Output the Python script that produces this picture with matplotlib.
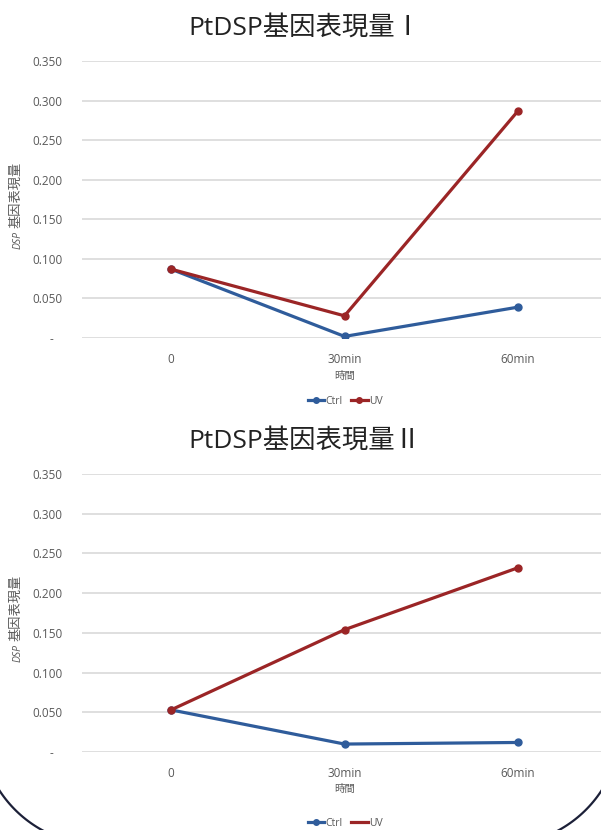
import numpy as np
import matplotlib.pyplot as plt
from matplotlib.lines import Line2D

plt.rcParams['font.family'] = ['Open Sans', 'Noto Sans CJK TC', 'DejaVu Sans']

# expression data, read per time point
times = ['0', '30min', '60min']
ctrl_1 = [0.087, 0.002, 0.039]
uv_1 = [0.087, 0.028, 0.287]
ctrl_2 = [0.053, 0.010, 0.012]
uv_2 = [0.053, 0.154, 0.232]

titles = ['PtDSP基因表現量Ⅰ', 'PtDSP基因表現量Ⅱ']
yticks = [0.0, 0.05, 0.10, 0.15, 0.20, 0.25, 0.30, 0.35]

BLUE = '#2f5c9b'
RED = '#9b2526'
GRID = '#d9d9d9'
TXT = '#595959'

W, H = 601, 830
fig = plt.figure(figsize=(W / 100, H / 100), dpi=100)
fig.patch.set_facecolor('white')


def fx(px):
    return px / W


def fy(py):
    return 1 - py / H


def draw_panel(top, bottom, ctrl, uv, title, title_y, xlab_y, leg_y, uv_leg_marker):
    ax = fig.add_axes([fx(82), fy(bottom), fx(W - 82), (bottom - top) / H])
    x = range(len(times))
    ax.plot(x, ctrl, color=BLUE, lw=2.3, marker='o', ms=5, zorder=3)
    ax.plot(x, uv, color=RED, lw=2.3, marker='o', ms=5, zorder=4)

    ax.set_xlim(-0.513, 2.478)
    ax.set_ylim(0, 0.35)
    ax.set_yticks(yticks)
    ax.set_yticklabels(['-   ' if v == 0 else f'{v:.3f}' for v in yticks],
                       fontsize=8.5, color=TXT)
    ax.set_xticks(list(x))
    ax.set_xticklabels(times, fontsize=8.5, color=TXT)
    ax.tick_params(axis='both', length=0)
    ax.tick_params(axis='y', pad=14)
    ax.tick_params(axis='x', pad=11)
    ax.grid(axis='y', color=GRID, lw=1.2)
    ax.set_axisbelow(True)
    for s in ax.spines.values():
        s.set_visible(False)

    # y label: italic gene name, then the CJK part stacked above it
    mid = (top + bottom) / 2
    fig.text(fx(18.5), fy(mid + 40), 'DSP', fontsize=7.5, style='italic', rotation=90,
             ha='center', va='center', color=TXT)
    fig.text(fx(16), fy(mid - 5), '基因表現量', fontsize=9.5, rotation=90,
             ha='center', va='center', color=TXT)

    fig.text(fx(305), fy(title_y), title, fontsize=19, ha='center', va='center',
             color='#222222')
    fig.text(fx(345), fy(xlab_y), '時間', fontsize=7.5, ha='center', va='center',
             color=TXT)

    handles = [
        Line2D([], [], color=BLUE, lw=2.3, marker='o', ms=4),
        Line2D([], [], color=RED, lw=2.3, marker='o' if uv_leg_marker else None, ms=4),
    ]
    ax.legend(handles, ['Ctrl', 'UV'], loc='center', ncol=2, frameon=False,
              bbox_to_anchor=(fx(345), fy(leg_y)), bbox_transform=fig.transFigure,
              fontsize=7.5, handlelength=1.6, handletextpad=0.1, columnspacing=0.8,
              labelcolor=TXT)
    return ax


draw_panel(61, 338, ctrl_1, uv_1, titles[0], 28, 376, 401, True)
draw_panel(474, 752, ctrl_2, uv_2, titles[1], 441, 789, 823, False)

# lower rounded corners of the sheet frame
bg = fig.add_axes([0, 0, 1, 1], zorder=10)
bg.set_xlim(0, W)
bg.set_ylim(H, 0)
bg.axis('off')
bg.patch.set_alpha(0)
R = 120
t = np.linspace(np.pi / 2, np.pi, 60)
bg.plot(100 + R * np.cos(t), 725 + R * np.sin(t), color='#1c2038', lw=1.6)
t = np.linspace(0, np.pi / 2, 60)
bg.plot(501 + R * np.cos(t), 725 + R * np.sin(t), color='#1c2038', lw=1.6)

fig.savefig('out.png', dpi=100)
